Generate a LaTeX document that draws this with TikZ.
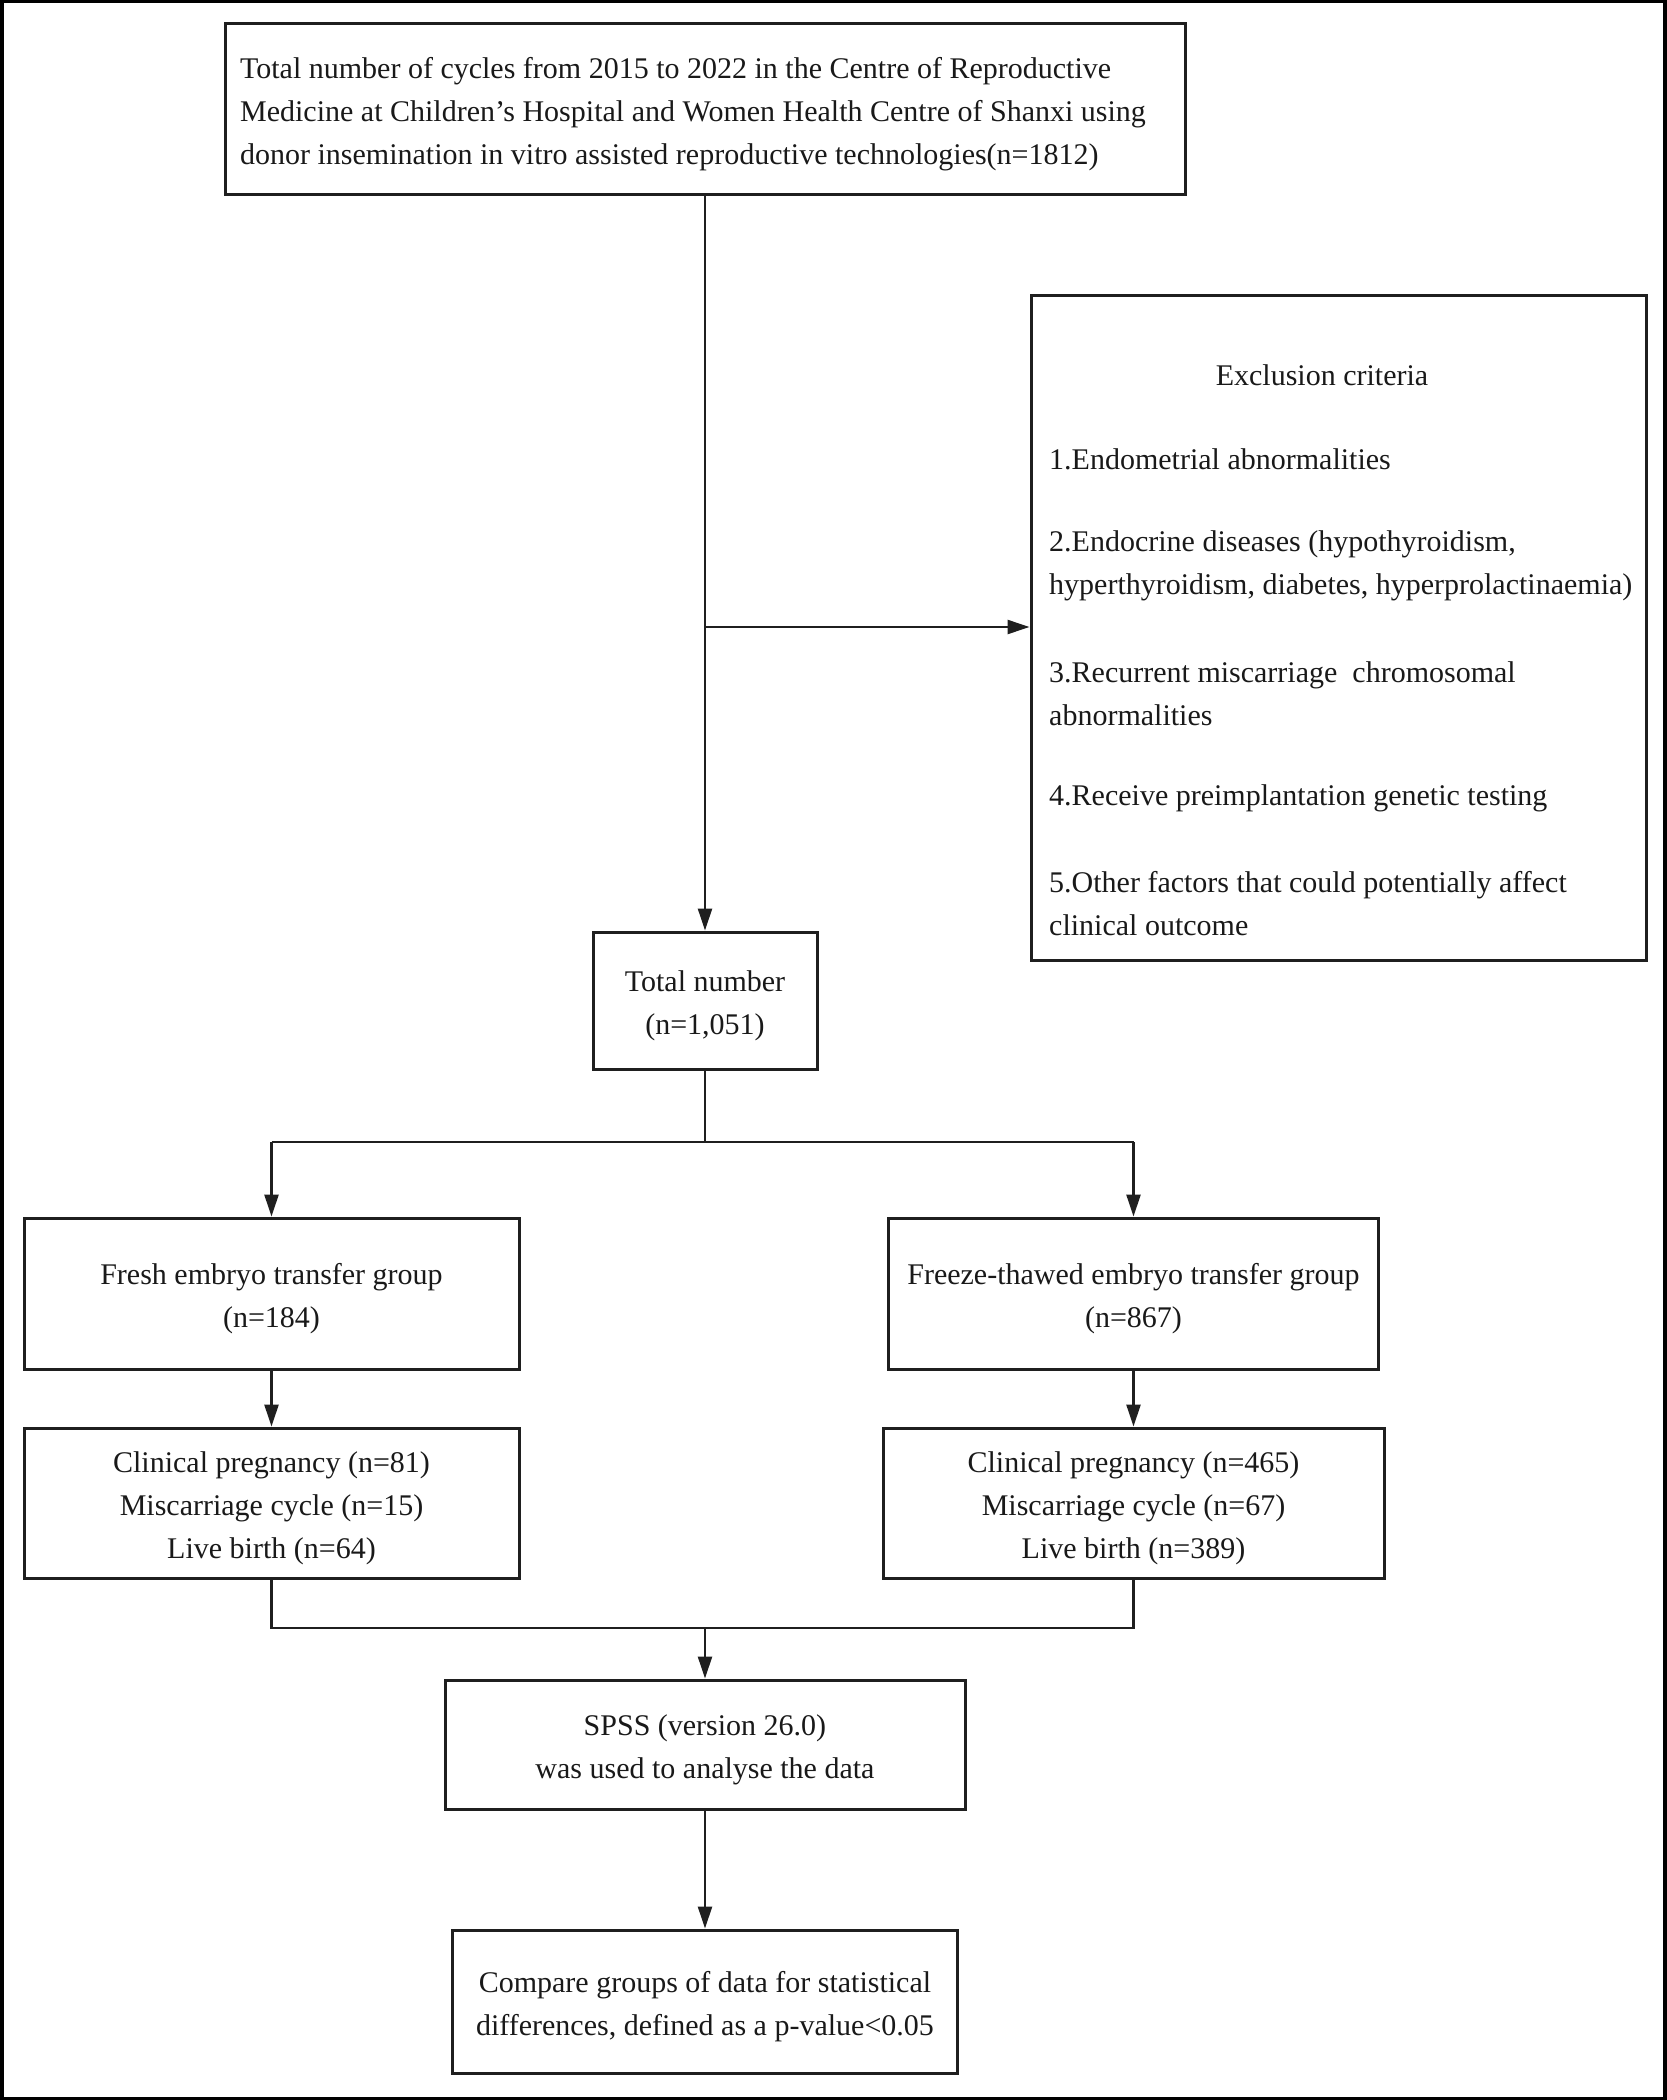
\documentclass[tikz,border=0pt]{standalone}
\usepackage{fontspec}
\setmainfont{Liberation Serif}
\usetikzlibrary{arrows.meta}
\newcommand\tup{\rule{0pt}{31pt}}
\begin{document}
\begin{tikzpicture}[x=1pt,y=-1pt,
  txt/.style={font=\fontsize{30}{43}\selectfont, text=black!90},
  box/.style={txt, draw=black!88, line width=3pt, inner sep=0pt, align=center},
  conn/.style={draw=black!88, line width=2.5pt},
  arr/.style={conn, -{Triangle[length=22pt,width=14pt]}},
  item/.style={txt, inner sep=0pt, anchor=west, align=left}]
\useasboundingbox (0,0) rectangle (1666,2100);
\draw[line width=4pt] (1.5,1.5) rectangle (1664.5,2098.5);

\node[box, align=left, minimum width=960pt, minimum height=171pt] (top) at (705,109.5)
 {\tup Total number of cycles from 2015 to 2022 in the Centre of Reproductive\\
  Medicine at Children's Hospital and Women Health Centre of Shanxi using\rule{24pt}{0pt}\\
  donor insemination in vitro assisted reproductive technologies(n=1812)};

\node[draw=black!88, line width=3pt, inner sep=0pt, minimum width=615pt, minimum height=665pt] (excl) at (1338.5,627.5) {};
\node[txt, inner sep=0pt] (exct) at (1322,375) {Exclusion criteria};
\node[item] (ex1) at (1049,459) {1.Endometrial abnormalities};
\node[item] (ex2) at (1049,566) {2.Endocrine diseases (hypothyroidism,\\hyperthyroidism, diabetes, hyperprolactinaemia)};
\node[item] (ex3) at (1049,694) {3.Recurrent miscarriage\ \ chromosomal\\abnormalities};
\node[item] (ex4) at (1049,798) {4.Receive preimplantation genetic testing};
\node[item] (ex5) at (1049,904) {5.Other factors that could potentially affect\\clinical outcome};

\node[box, minimum width=224pt, minimum height=137pt] (tot) at (705,1000.5) {\tup Total number\\(n=1,051)};

\node[box, minimum width=495pt, minimum height=151pt] (fresh) at (271.5,1293.5) {\tup Fresh embryo transfer group\\(n=184)};
\node[box, minimum width=490pt, minimum height=151pt] (freeze) at (1133.5,1293.5) {\tup Freeze-thawed embryo transfer group\\(n=867)};

\node[box, minimum width=495pt, minimum height=150pt] (clin1) at (271.5,1503) {\tup Clinical pregnancy (n=81)\\Miscarriage cycle (n=15)\\Live birth (n=64)};
\node[box, minimum width=501pt, minimum height=150pt] (clin2) at (1133.5,1503) {\tup Clinical pregnancy (n=465)\\Miscarriage cycle (n=67)\\Live birth (n=389)};

\node[box, minimum width=520pt, minimum height=129pt] (spss) at (705,1744.5) {\tup SPSS (version 26.0)\\was used to analyse the data};
\node[box, minimum width=505pt, minimum height=143pt] (cmp) at (705,2001.5) {\tup Compare groups of data for statistical\\differences, defined as a p-value<0.05};

\coordinate (b1) at (705,627);
\coordinate (s) at (705,1142);
\coordinate (j) at (705,1628);

\draw[arr] (top.south) -- (tot.north);
\draw[arr] (b1) -- (excl.west |- b1);
\draw[conn] (tot.south) -- (s);
\draw[conn] (fresh.north |- s) -- (freeze.north |- s);
\draw[arr] (fresh.north |- s) -- (fresh.north);
\draw[arr] (freeze.north |- s) -- (freeze.north);
\draw[arr] (fresh.south) -- (clin1.north);
\draw[arr] (freeze.south) -- (clin2.north);
\draw[conn] (clin1.south) -- (clin1.south |- j) -- (clin2.south |- j) -- (clin2.south);
\draw[arr] (j) -- (spss.north);
\draw[arr] (spss.south) -- (cmp.north);
\end{tikzpicture}
\end{document}
